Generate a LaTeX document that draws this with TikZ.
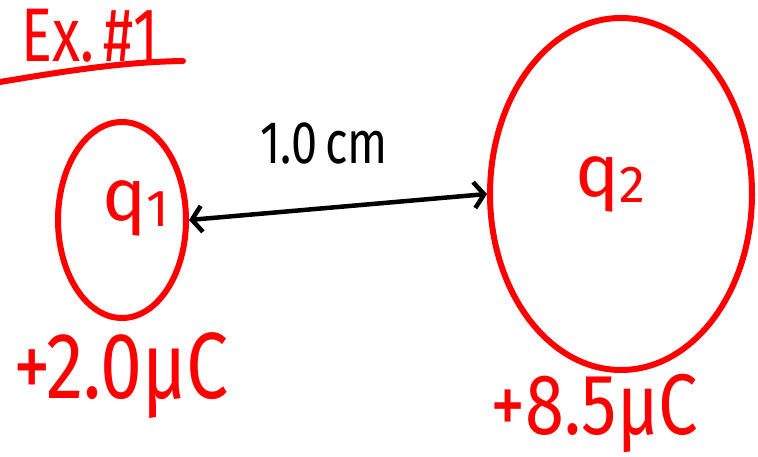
\documentclass[tikz,border=0pt]{standalone}
\usepackage{fontspec}
\setmainfont{Fira Sans}
\usetikzlibrary{shapes.geometric,arrows.meta}
\definecolor{ink}{RGB}{255,0,0}
\tikzset{
  charge/.style={draw=ink, line width=6pt, ellipse, inner sep=0pt},
  redtxt/.style={text=ink, inner sep=0pt},
  dist/.style={draw=black, line width=4.5pt, {Straight Barb[length=10pt,width=26pt]}-{Straight Barb[length=10pt,width=26pt]}}
}
\begin{document}
\begin{tikzpicture}[x=1pt,y=-1pt]
\useasboundingbox (0,0) rectangle (758,457);
\node[redtxt, font=\fontsize{76}{78}\selectfont, xscale=0.76] (title) at (90,36) {Ex.\,\#1};
\coordinate (ul1) at (0,82);
\coordinate (ul2) at (183,61);
\draw[draw=ink, line width=6pt, line cap=round] (ul1) .. controls (60,72) and (120,62) .. (ul2);
\node[charge, minimum width=128pt, minimum height=196pt] (c1) at (122,220) {};
\node[charge, minimum width=262pt, minimum height=352pt] (c2) at (621,194) {};
\node[redtxt, font=\fontsize{74}{76}\selectfont] (q1) at (136,208) {q\raisebox{-6pt}{\fontsize{52}{52}\selectfont 1}};
\node[redtxt, font=\fontsize{74}{76}\selectfont] (q2) at (610,184) {q\raisebox{-6pt}{\fontsize{52}{52}\selectfont 2}};
\draw[dist] (c1.east) -- (c2.west);
\node[inner sep=0pt, font=\fontsize{60}{62}\selectfont, xscale=0.78] (d) at (324,143) {1.0\,cm};
\node[redtxt, font=\fontsize{94}{96}\selectfont, xscale=0.8] (l1) at (121,376) {+2.0μC};
\node[redtxt, font=\fontsize{86}{88}\selectfont, xscale=0.82] (l2) at (594,414) {+8.5μC};
\end{tikzpicture}
\end{document}
